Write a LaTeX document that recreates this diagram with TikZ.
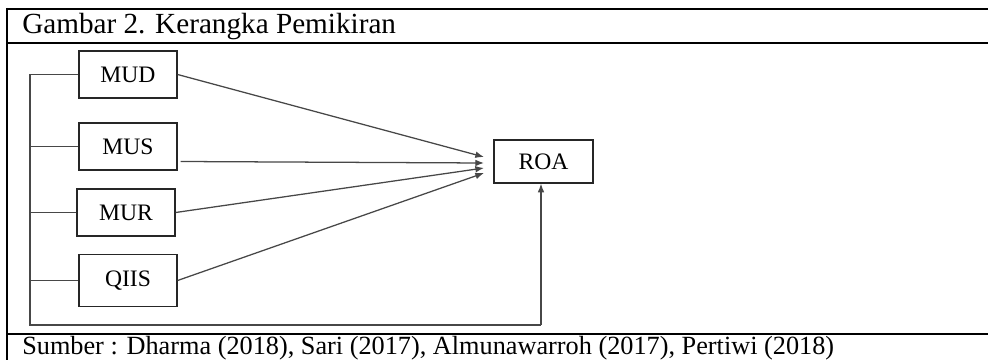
\documentclass[tikz,border=0pt]{standalone}
\usepackage{fontspec}
\setmainfont{Liberation Serif}
\usetikzlibrary{arrows.meta}
\begin{document}
\begin{tikzpicture}[x=0.75pt,y=-0.75pt,
  frame/.style={line width=1.5pt,black},
  varbox/.style={draw=black!85,line width=0.9pt,minimum width=73.5pt,minimum height=35.25pt,inner sep=0pt,font=\fontsize{17.7pt}{20pt}\selectfont},
  link/.style={draw=black!72,line width=0.95pt},
  arr/.style={link,-{Latex[length=6.5pt,width=5pt]}},
  caption/.style={anchor=base west,inner sep=0pt}]
\useasboundingbox (0,0) rectangle (988,360);
% table frame
\draw[frame] (6,9) -- (988,9);
\draw[frame] (6,43.5) -- (988,43.5);
\draw[frame] (6,334) -- (988,334);
\draw[frame] (7,8) -- (7,360);
\node[caption,font=\fontsize{21.9pt}{24pt}\selectfont] (title) at (22,34) {Gambar 2. Kerangka Pemikiran};
\node[caption,font=\fontsize{19.7pt}{22pt}\selectfont] (src) at (22,354.5) {Sumber : Dharma (2018), Sari (2017), Almunawarroh (2017), Pertiwi (2018)};
% boxes
\node[varbox] (mud) at (128,74.5) {MUD};
\node[varbox] (mus) at (128,146.5) {MUS};
\node[varbox] (mur) at (126,212.5) {MUR};
\node[varbox,minimum height=39pt] (qiis) at (128,280.5) {QIIS};
\node[varbox,minimum width=74.25pt,minimum height=32.25pt] (roa) at (543.5,161.5) {ROA};
% arrow tips
\coordinate (t1) at (484,157);
\coordinate (t2) at (484,163);
\coordinate (t3) at (484,168);
\coordinate (t4) at (484,173);
\draw[arr] (mud.east) -- (t1);
\draw[arr] ([shift={(3,15)}]mus.east) -- (t2);
\draw[arr] (mur.east) -- (t3);
\draw[arr] (qiis.east) -- (t4);
% bus on the left
\coordinate (b1) at (30,74.5);
\coordinate (b2) at (30,325);
\coordinate (b3) at (541,325);
\draw[link] (mud.west) -- (b1) -- (b2) -- (b3);
\draw[arr] (b3) -- (roa.south -| b3);
\draw[link] (mus.west) -- (mus.west -| b1);
\draw[link] (mur.west) -- (mur.west -| b1);
\draw[link] (qiis.west) -- (qiis.west -| b1);
\end{tikzpicture}
\end{document}
